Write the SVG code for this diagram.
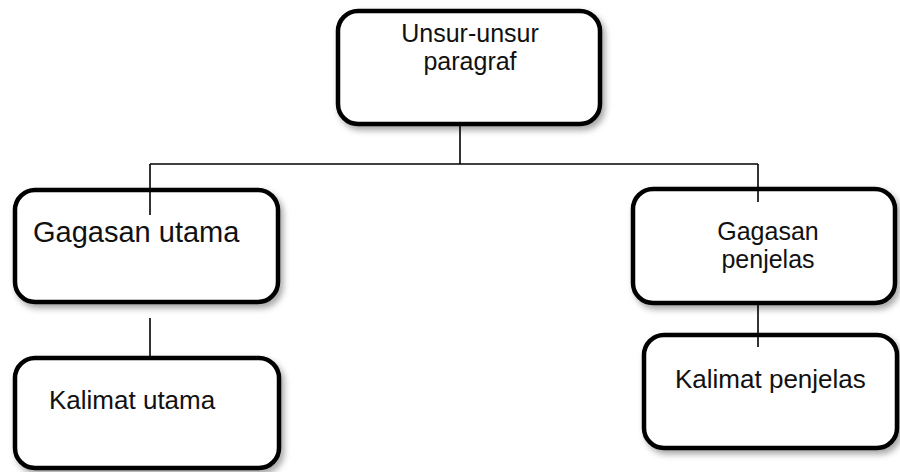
<svg xmlns="http://www.w3.org/2000/svg" width="900" height="472" viewBox="0 0 900 472">
  <style>
    .box { fill: #ffffff; stroke: #000000; stroke-width: 4.5; filter: url(#shadow); }
    .lbl { font-family: "Liberation Sans", Arial, sans-serif; font-size: 26px; fill: #111111; text-anchor: middle; }
    .two { font-size: 25px; }
    .conn { stroke: #000000; stroke-width: 1.6; fill: none; }
  </style>
  <defs>
    <filter id="shadow" x="-10%" y="-10%" width="125%" height="130%">
      <feDropShadow dx="3" dy="4" stdDeviation="3" flood-color="#000000" flood-opacity="0.35"/>
    </filter>
  </defs>
  <rect width="900" height="472" fill="#ffffff"/>

  <g id="node-unsur">
    <rect class="box" x="338" y="11" width="262" height="113" rx="20" ry="20"/>
    <text class="lbl two" x="470" y="42">Unsur-unsur</text>
    <text class="lbl two" x="470" y="70">paragraf</text>
  </g>

  <g id="node-gagasan-utama">
    <rect class="box" x="15" y="190" width="263" height="112" rx="20" ry="20"/>
    <text class="lbl" x="33" y="242" style="text-anchor:start;font-size:29px">Gagasan utama</text>
  </g>

  <g id="node-gagasan-penjelas">
    <rect class="box" x="633" y="189" width="262" height="114" rx="20" ry="20"/>
    <text class="lbl two" x="768" y="240">Gagasan</text>
    <text class="lbl two" x="768" y="268">penjelas</text>
  </g>

  <g id="node-kalimat-utama">
    <rect class="box" x="15" y="358" width="264" height="110" rx="20" ry="20"/>
    <text class="lbl" x="49" y="409" style="text-anchor:start">Kalimat utama</text>
  </g>

  <g id="node-kalimat-penjelas">
    <rect class="box" x="644" y="335" width="253" height="113" rx="20" ry="20"/>
    <text class="lbl" x="675" y="388" style="text-anchor:start">Kalimat penjelas</text>
  </g>

  <g id="connectors">
    <line class="conn" x1="460" y1="124" x2="460" y2="164"/>
    <line class="conn" x1="150" y1="164" x2="758" y2="164"/>
    <line class="conn" x1="150" y1="164" x2="150" y2="215"/>
    <line class="conn" x1="758" y1="164" x2="758" y2="202"/>
    <line class="conn" x1="150" y1="318" x2="150" y2="358"/>
    <line class="conn" x1="758" y1="303" x2="758" y2="347"/>
  </g>
</svg>
